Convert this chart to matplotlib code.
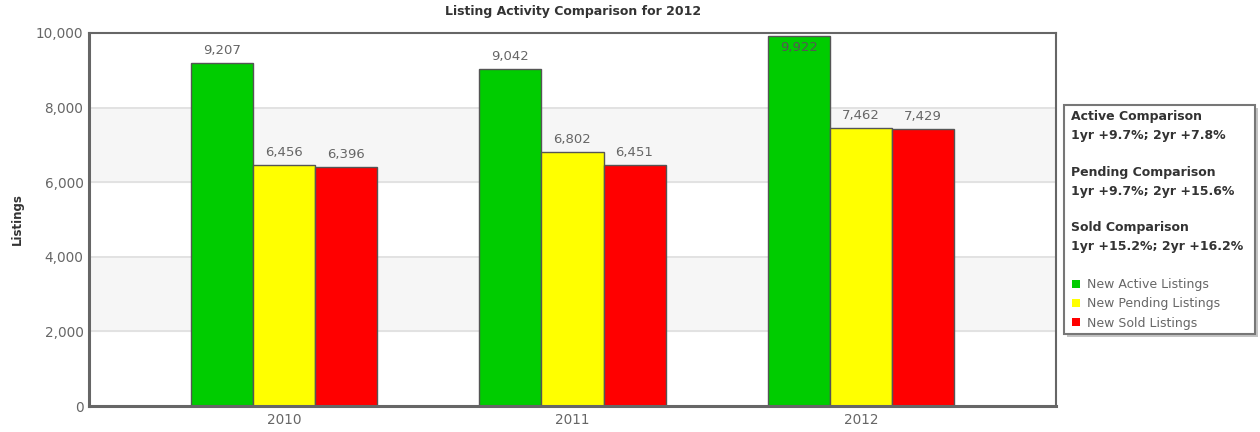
import numpy as np
import matplotlib.pyplot as plt
from matplotlib.patches import Rectangle

# Data
years = ["2010", "2011", "2012"]
active = [9207, 9042, 9922]
pending = [6456, 6802, 7462]
sold = [6396, 6451, 7429]
series_names = ["New Active Listings", "New Pending Listings", "New Sold Listings"]
comparison_names = ["Active", "Pending", "Sold"]
colors = ["#00cc00", "#ffff00", "#ff0000"]

tick_color = "#666666"
text_color = "#333333"

fig = plt.figure(figsize=(12.6, 4.32), dpi=100)
ax = fig.add_axes([89 / 1260, 1 - 406 / 432, (1056 - 89) / 1260, (406 - 33) / 432])

x = np.arange(len(years))
width = 0.215
ymax = 10000

# alternating background bands
for lo in (2000, 6000):
    ax.axhspan(lo, lo + 2000, color="#f6f6f6", zorder=0)
for y in (2000, 4000, 6000, 8000):
    ax.axhline(y, color="#e0e0e0", lw=1.3, zorder=0.5)

all_series = [active, pending, sold]
for i, (vals, name, c) in enumerate(zip(all_series, series_names, colors)):
    pos = x + (i - 1) * width
    ax.bar(pos, vals, width, color=c, edgecolor="#555555", linewidth=1.0,
           label=name, zorder=2)
    for px, v in zip(pos, vals):
        label = f"{v:,}"
        if v + 700 > ymax:
            ax.annotate(label, (px, v), xytext=(0, -8), textcoords="offset points",
                        ha="center", va="center", fontsize=9.5, color="#555555", zorder=3)
        else:
            ax.annotate(label, (px, v), xytext=(0, 9), textcoords="offset points",
                        ha="center", va="center", fontsize=9.5, color=tick_color, zorder=3)

ax.set_xlim(-0.676, 2.676)
ax.set_ylim(0, ymax)
ax.set_xticks(x)
ax.set_xticklabels(years)
ax.set_yticks(range(0, 10001, 2000))
ax.set_yticklabels([f"{v:,}" for v in range(0, 10001, 2000)])
ax.tick_params(length=0, colors=tick_color, labelsize=9.8, pad=5)
ax.tick_params(axis="y", pad=4)
for s in ax.spines.values():
    s.set_color("#666666")
    s.set_linewidth(1.5)
ax.spines["left"].set_linewidth(2.2)
ax.spines["bottom"].set_linewidth(2.2)

fig.text(573 / 1260, 1 - 12 / 432, "Listing Activity Comparison for 2012",
         ha="center", va="center", fontsize=9, fontweight="bold", color=text_color)
fig.text(17 / 1260, 1 - 219 / 432, "Listings", rotation=90, ha="center", va="center",
         fontsize=8.5, fontweight="bold", color=text_color)

# side panel box with shadow
bx0, bx1 = 1064 / 1260, 1255 / 1260
by0, by1 = 1 - 334 / 432, 1 - 105 / 432
fig.patches.append(Rectangle((bx0 + 3 / 1260, by0 - 3 / 432), bx1 - bx0, by1 - by0,
                             transform=fig.transFigure, facecolor="#c4c4c4",
                             edgecolor="none", zorder=1))
fig.patches.append(Rectangle((bx0, by0), bx1 - bx0, by1 - by0, transform=fig.transFigure,
                             facecolor="white", edgecolor="#777777", lw=1.5, zorder=2))

line_y = [117, 172.5, 228]
for name, vals, yy in zip(comparison_names, all_series, line_y):
    one = (vals[2] / vals[1] - 1) * 100
    two = (vals[2] / vals[0] - 1) * 100
    fig.text(1071 / 1260, 1 - yy / 432, f"{name} Comparison", ha="left", va="center",
             fontsize=9, fontweight="bold", color=text_color, zorder=3)
    fig.text(1071 / 1260, 1 - (yy + 18.5) / 432, f"1yr +{one:.1f}%; 2yr +{two:.1f}%",
             ha="left", va="center", fontsize=9, fontweight="bold", color=text_color,
             zorder=3)

handles, labels = ax.get_legend_handles_labels()
leg = fig.legend(handles, labels, loc="upper left",
                 bbox_to_anchor=(1066 / 1260, 1 - 272 / 432),
                 frameon=False, fontsize=9,
                 handlelength=0.6, handleheight=0.6, handletextpad=0.6,
                 labelspacing=0.5, borderpad=0)
for h in leg.legend_handles:
    h.set_edgecolor("none")
for t in leg.get_texts():
    t.set_color(tick_color)
leg.set_zorder(5)

fig.savefig("out.png", dpi=100)
